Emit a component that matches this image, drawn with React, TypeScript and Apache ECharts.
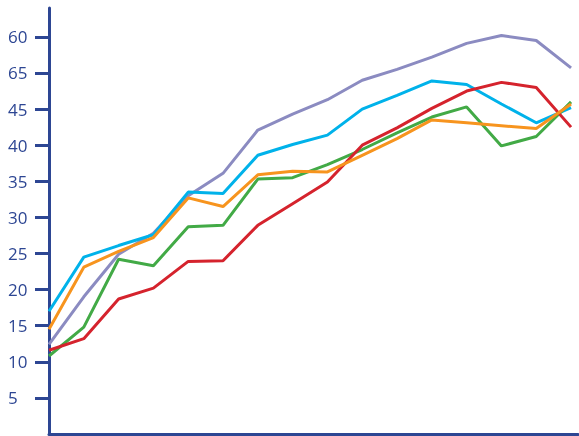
import React, { useEffect, useRef } from "react";
import * as echarts from "echarts";

const xIndex = [0, 1, 2, 3, 4, 5, 6, 7, 8, 9, 10, 11, 12, 13, 14, 15];
const purple = [12.4, 19.0, 24.9, 27.8, 33.0, 36.1, 42.1, 44.3, 46.3, 49.0, 50.5, 52.2, 54.1, 55.2, 54.5, 50.7];
const cyan = [17.0, 24.5, 26.1, 27.6, 33.5, 33.3, 38.6, 40.1, 41.4, 45.0, 46.9, 48.9, 48.4, 45.7, 43.1, 45.2];
const green = [10.8, 14.8, 24.2, 23.3, 28.7, 28.9, 35.3, 35.5, 37.3, 39.4, 41.7, 43.9, 45.3, 39.9, 41.2, 46.0];
const red = [11.6, 13.2, 18.7, 20.2, 23.9, 24.0, 28.9, 31.9, 34.9, 40.0, 42.4, 45.1, 47.5, 48.7, 48.0, 42.5];
const orange = [14.5, 23.1, 25.3, 27.2, 32.7, 31.5, 35.9, 36.4, 36.3, 38.6, 40.9, 43.5, 43.1, 42.7, 42.3, 45.7];

const tickValues = [5, 10, 15, 20, 25, 30, 35, 40, 45, 50, 55];
const tickLabels = ["5", "10", "15", "20", "25", "30", "35", "40", "45", "65", "60"];

const NAVY = "#2D4693";

export default function App() {
  const ref = useRef<HTMLDivElement>(null);
  useEffect(() => {
    if (!ref.current) return;
    const chart = echarts.init(ref.current, undefined, { renderer: "svg" });
    const mk = (name: string, data: number[], color: string) => ({
      name,
      type: "line",
      data: xIndex.map((x, i) => [x, data[i]]),
      showSymbol: false,
      symbol: "none",
      lineStyle: { color, width: 3 },
      itemStyle: { color },
    });
    chart.setOption({
      animation: false,
      grid: { left: 49, right: 1, top: 8, bottom: 2, containLabel: false },
      xAxis: {
        type: "value",
        min: 0,
        max: 15.2,
        axisLine: { show: true, onZero: false, lineStyle: { color: NAVY, width: 3 } },
        axisTick: { show: false },
        axisLabel: { show: false },
        splitLine: { show: false },
      },
      yAxis: {
        type: "value",
        min: 0,
        max: 59,
        axisLine: { show: true, lineStyle: { color: NAVY, width: 3 } },
        axisTick: {
          show: true,
          length: 14,
          customValues: tickValues,
          lineStyle: { color: NAVY, width: 3 },
        },
        splitLine: { show: false },
        axisLabel: {
          show: true,
          customValues: tickValues,
          align: "left",
          margin: 41,
          padding: [0, 0, 8, 0],
          color: NAVY,
          fontFamily: "Open Sans",
          fontSize: 17,
          formatter: (v: number) => {
            const idx = tickValues.indexOf(v);
            return idx >= 0 ? tickLabels[idx] : "";
          },
        },
      },
      series: [
        mk("purple", purple, "#8B8BC1"),
        mk("cyan", cyan, "#00B2EA"),
        mk("green", green, "#42AA46"),
        mk("red", red, "#D5232D"),
        mk("orange", orange, "#F7941E"),
      ],
    });
    return () => chart.dispose();
  }, []);
  return (
    <div
      ref={ref}
      style={{ position: "fixed", left: 0, top: 0, width: 579, height: 436 }}
    />
  );
}
